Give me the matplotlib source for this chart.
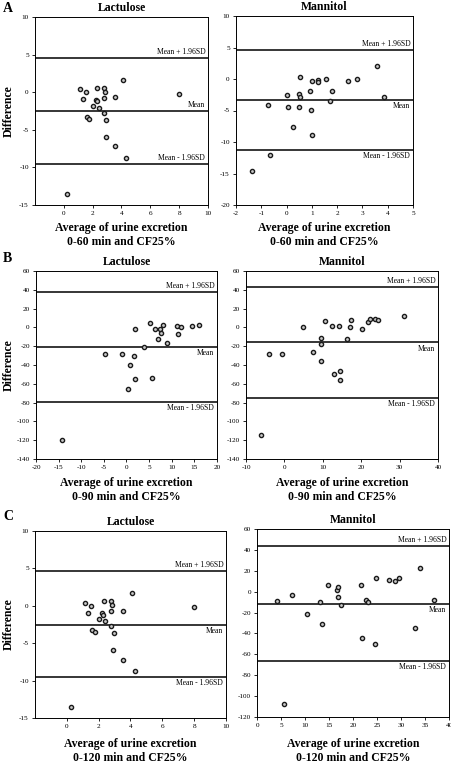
import matplotlib.pyplot as plt

plt.rcParams['font.family'] = ['Liberation Serif', 'DejaVu Serif']
plt.rcParams['axes.unicode_minus'] = False

W, H = 452, 763

# --- data (average, difference) ---
lac60_x = [1.15, 1.54, 1.31, 2.32, 2.76, 2.83, 2.23, 2.30, 2.02, 2.41, 2.78,
           3.56, 4.09, 7.98, 2.80, 1.61, 1.75, 2.94, 2.90, 3.54, 4.30, 0.25]
lac60_y = [0.44, 0.0, -0.93, 0.58, 0.58, 0.09, -1.02, -1.2, -1.82, -2.05, -0.76,
           -0.67, 1.65, -0.18, -2.76, -3.3, -3.56, -3.65, -5.96, -7.2, -8.76, -13.57]
lac60_lines = [4.6, -2.5, -9.5]

man60_x = [0.55, 1.02, 1.26, 1.26, 1.54, 2.41, 2.78, 3.58, 0.03, 0.50, 0.55, 0.93,
           1.78, 3.85, 1.70, -0.73, 0.07, 0.48, 0.98, 0.27, 1.02, -0.66, -1.35]
man60_y = [0.37, -0.26, -0.16, -0.42, -0.05, -0.26, 0.05, 2.0, -2.6, -2.4, -2.86, -1.85,
           -1.85, -2.9, -3.44, -4.18, -4.39, -4.44, -4.92, -7.67, -8.9, -12.0, -14.55]
man60_lines = [4.6, -3.33, -11.3]

lac90_x = [1.9, 5.2, 6.2, 8.1, 7.5, 7.7, 6.9, 8.9, 11.2, 11.4, 12.1, 14.5, 16.0,
           3.9, -4.7, -1.1, 1.7, 0.85, 1.9, 5.7, 0.3, -14.2]
lac90_y = [-1.5, 4.5, -2.2, 2.8, -1.5, -5.7, -12.8, -16.7, 1.5, -7.4, -0.1, 2.0, 2.7,
           -21.1, -28.1, -28.1, -30.2, -40.5, -54.6, -54.3, -65.5, -119.9]
lac90_lines = [37.7, -20.6, -79.2]

man90_x = [4.8, 10.5, 12.5, 14.3, 17.4, 17.1, 20.3, 21.8, 22.3, 23.7, 24.4, 31.1,
           9.6, 9.6, 16.4, 7.4, -4.0, -0.5, 9.6, 12.8, 14.6, 14.6, -6.0]
man90_y = [-0.1, 7.3, 1.3, 1.7, 8.0, -0.1, -2.2, 5.9, 8.8, 9.1, 8.0, 12.3,
           -11.4, -18.1, -12.4, -26.6, -28.0, -28.0, -35.4, -49.9, -46.7, -55.9, -115.0]
man90_lines = [43.0, -16.0, -74.6]

lac120_x = [1.15, 1.54, 1.31, 2.32, 2.76, 2.83, 2.23, 2.30, 2.02, 2.41, 2.78,
            3.56, 4.09, 7.98, 2.80, 1.61, 1.75, 2.94, 2.90, 3.54, 4.30, 0.25]
lac120_y = [0.44, 0.0, -0.93, 0.58, 0.58, 0.09, -1.02, -1.2, -1.82, -2.05, -0.76,
            -0.67, 1.65, -0.18, -2.76, -3.3, -3.56, -3.65, -5.96, -7.2, -8.76, -13.57]
lac120_lines = [4.6, -2.5, -9.5]

man120_x = [4.2, 7.2, 10.4, 13.1, 14.8, 13.6, 16.6, 16.9, 16.9, 17.4, 21.7, 22.8,
            23.1, 24.7, 21.8, 24.6, 27.4, 28.8, 29.6, 33.9, 33.0, 36.8, 5.6]
man120_y = [-9.2, -3.1, -21.0, -9.5, 6.5, -31.4, 2.0, 4.5, -4.7, -12.6, 6.1, -8.2,
            -10.1, 13.2, -44.3, -50.0, 11.2, 9.9, 13.5, 23.0, -34.7, -7.6, -107.6]
man120_lines = [43.4, -11.4, -66.2]

line_labels = ['Mean + 1.96SD', 'Mean', 'Mean - 1.96SD']

# pixel box (left, top, right, bottom), xlim, xticks, ylim, yticks,
# label side per line, has y label, x-label centre (pixels from top)
panels = [
    ('Lactulose', '0-60', lac60_x, lac60_y, lac60_lines, (35, 17, 208, 205),
     (-2, 10), range(0, 11, 2), (-15, 10), range(-15, 11, 5), 'aaa', True, 235),
    ('Mannitol', '0-60', man60_x, man60_y, man60_lines, (236, 16, 413, 205),
     (-2, 5), range(-2, 6), (-20, 10), range(-20, 11, 5), 'abb', False, 235),
    ('Lactulose', '0-90', lac90_x, lac90_y, lac90_lines, (36, 271, 217, 459),
     (-20, 20), range(-20, 21, 5), (-140, 60), range(-140, 61, 20), 'abb', True, 490),
    ('Mannitol', '0-90', man90_x, man90_y, man90_lines, (246, 271, 438, 459),
     (-10, 40), range(-10, 41, 10), (-140, 60), range(-140, 61, 20), 'abb', False, 490),
    ('Lactulose', '0-120', lac120_x, lac120_y, lac120_lines, (35, 531, 226, 718),
     (-2, 10), range(0, 11, 2), (-15, 10), range(-15, 11, 5), 'abb', True, 751),
    ('Mannitol', '0-120', man120_x, man120_y, man120_lines, (257, 529, 449, 717),
     (0, 40), range(0, 41, 5), (-120, 60), range(-120, 61, 20), 'abb', False, 751),
]

fig = plt.figure(figsize=(W / 100, H / 100), dpi=100)

for (title, period, xs, ys, lines, box, xlim, xticks, ylim, yticks,
     sides, left, xlab_y) in panels:
    l, t, r, b = box
    ax = fig.add_axes([l / W, 1 - b / H, (r - l) / W, (b - t) / H])
    ax.plot(xs, ys, 'o', ms=3.0, mfc='#c8c8c8', mec='#1a1a1a', mew=1.0, zorder=3)
    for val, lab, side in zip(lines, line_labels, sides):
        ax.axhline(val, color='black', lw=1.1)
        ax.annotate(lab, (1, val), xycoords=('axes fraction', 'data'),
                    xytext=(-2, 1.5 if side == 'a' else -1.5), textcoords='offset points',
                    ha='right', va='bottom' if side == 'a' else 'top', fontsize=5.5)
    ax.set_xlim(*xlim)
    ax.set_ylim(*ylim)
    ax.set_xticks(list(xticks))
    ax.set_yticks(list(yticks))
    ax.tick_params(labelsize=5.2, length=2, width=0.6, pad=2.5)
    for s in ax.spines.values():
        s.set_linewidth(0.7)
    ax.set_title(title, fontsize=8.5, fontweight='bold', pad=4)
    ax.set_xlabel('Average of urine excretion\n%s min and CF25%%' % period,
                  fontsize=8.5, fontweight='bold', linespacing=1.15, va='center')
    ax.xaxis.set_label_coords(0.5, (b - xlab_y) / (b - t))
    if left:
        ax.set_ylabel('Difference', fontsize=8.5, fontweight='bold', va='center')
        ax.yaxis.set_label_coords((9 - l) / (r - l), 0.5)

for letter, y in [('A', 8), ('B', 259), ('C', 517)]:
    fig.text(3 / W, 1 - y / H, letter, fontsize=10, fontweight='bold', va='center')

fig.savefig('out.png', dpi=100)
